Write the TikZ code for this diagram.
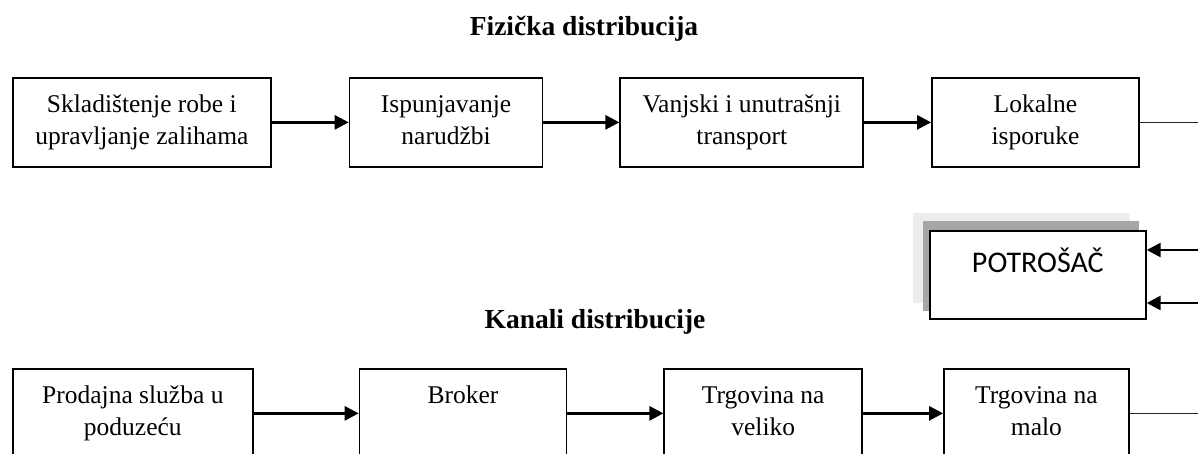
\documentclass[tikz,border=0pt]{standalone}
\usepackage{fontspec}
\setmainfont{Liberation Serif}
\newfontfamily\potrfont{Carlito}
\usetikzlibrary{positioning}
\usetikzlibrary{arrows.meta}

\begin{document}
\begin{tikzpicture}[x=1pt,y=-1pt,
        box/.style={draw,line width=1.7pt,minimum height=89pt,inner sep=0pt,align=center,font=\fontsize{25.5}{32}\selectfont},
        flow/.style={line width=2.7pt,-{Triangle[length=14pt,width=14pt]}},
        exit/.style={line width=1.7pt,black!85},
        heading/.style={font=\fontsize{27.5}{33}\selectfont\bfseries,anchor=base}]
        \useasboundingbox (0,0) rectangle (1198,453);
        \coordinate (edge) at (1198,0);
        % fizicka distribucija
        \node [heading] (fiz) at (584,35) {Fizička distribucija};
        \node [box,minimum width=258pt,anchor=north west] (skl) at (12,77) {\strut Skladištenje robe i\\\strut upravljanje zalihama};
        \node [box,minimum width=193pt,right=77pt of skl] (isp) {\strut Ispunjavanje\\\strut narudžbi};
        \node [box,minimum width=243pt,right=76pt of isp] (tra) {\strut Vanjski i unutrašnji\\\strut transport};
        \node [box,minimum width=207pt,right=67pt of tra] (lok) {\strut Lokalne\\\strut isporuke};
        \draw[flow] (skl.east) -- (isp.west);
        \draw[flow] (isp.east) -- (tra.west);
        \draw[flow] (tra.east) -- (lok.west);
        \draw[exit] (lok.east) -- (lok.east -| edge);
        % potrosac
        \fill[black!7] (913,213) rectangle (1130,303);
        \fill[black!35] (923,221) rectangle (1139,311);
        \node [box,fill=white,minimum width=216pt,minimum height=88pt,anchor=north west,
               font=\potrfont\fontsize{30}{36}\selectfont,text height=29pt,text depth=33pt] (pot) at (929,230) {POTROŠAČ};
        \coordinate (in1) at (1198,250);
        \coordinate (in2) at (1198,303);
        \draw[flow] (in1) -- (in1 -| pot.east);
        \draw[flow] (in2) -- (in2 -| pot.east);
        % kanali distribucije
        \node [heading] (kan) at (595,328) {Kanali distribucije};
        \node [box,minimum width=240pt,anchor=north west] (pro) at (12,368) {\strut Prodajna služba u\\\strut poduzeću};
        \node [box,minimum width=207pt,right=105pt of pro] (bro) {\strut Broker\\\strut};
        \node [box,minimum width=198pt,right=96pt of bro] (vel) {\strut Trgovina na\\\strut veliko};
        \node [box,minimum width=185pt,right=80pt of vel] (mal) {\strut Trgovina na\\\strut malo};
        \draw[flow] (pro.east) -- (bro.west);
        \draw[flow] (bro.east) -- (vel.west);
        \draw[flow] (vel.east) -- (mal.west);
        \draw[exit] (mal.east) -- (mal.east -| edge);
    \end{tikzpicture}
\end{document}
